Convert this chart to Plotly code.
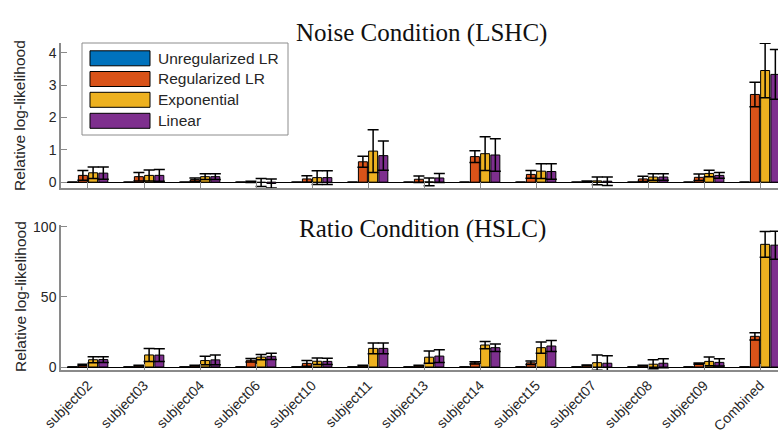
import plotly.graph_objects as go

# ---- data -------------------------------------------------------------
categories = ["subject02", "subject03", "subject04", "subject06", "subject10",
              "subject11", "subject13", "subject14", "subject15", "subject07",
              "subject08", "subject09", "Combined"]

series_names = ["Unregularized LR", "Regularized LR", "Exponential", "Linear"]
series_colors = ["#0072BD", "#D95319", "#EDB120", "#7E2F8E"]

# Noise condition (LSHC): relative log-likelihood and error
noise_unreg = [0] * 13
noise_unreg_err = [0] * 13
noise_reg = [0.21, 0.17, 0.08, 0.01, 0.10, 0.63, 0.09, 0.79, 0.24, 0.02, 0.10, 0.15, 2.71]
noise_reg_err = [0.15, 0.13, 0.05, 0.02, 0.10, 0.17, 0.10, 0.18, 0.12, 0.02, 0.08, 0.10, 0.38]
noise_exp = [0.29, 0.21, 0.17, -0.01, 0.14, 0.96, 0.01, 0.88, 0.34, 0.04, 0.16, 0.27, 3.45]
noise_exp_err = [0.18, 0.17, 0.09, 0.12, 0.21, 0.66, 0.12, 0.52, 0.23, 0.12, 0.10, 0.10, 0.84]
noise_lin = [0.28, 0.21, 0.17, -0.04, 0.14, 0.82, 0.13, 0.84, 0.33, 0.03, 0.16, 0.21, 3.33]
noise_lin_err = [0.19, 0.18, 0.09, 0.14, 0.21, 0.45, 0.14, 0.50, 0.24, 0.13, 0.10, 0.09, 0.77]

# Ratio condition (HSLC)
ratio_unreg = [0] * 13
ratio_unreg_err = [0] * 13
ratio_reg = [1.5, 1.0, 1.0, 4.8, 2.6, 1.0, 1.0, 3.0, 3.0, 1.2, 1.0, 2.4, 21.9]
ratio_reg_err = [0.4, 0.3, 0.3, 1.2, 2.0, 0.3, 0.3, 0.8, 1.3, 0.3, 0.3, 0.5, 2.6]
ratio_exp = [5.2, 8.6, 4.6, 7.1, 4.1, 13.3, 7.0, 15.7, 13.8, 3.1, 2.0, 4.0, 87.6]
ratio_exp_err = [2.1, 4.7, 3.0, 1.9, 2.3, 3.8, 4.4, 2.6, 4.0, 5.5, 3.2, 3.1, 9.2]
ratio_lin = [5.3, 8.5, 5.1, 7.6, 4.0, 13.3, 7.8, 13.8, 15.0, 2.7, 2.7, 3.3, 87.0]
ratio_lin_err = [2.1, 4.5, 3.5, 2.2, 2.2, 3.8, 4.6, 2.7, 4.0, 5.3, 3.2, 2.6, 10.0]

noise_tick_vals = [0, 1, 2, 3, 4]
ratio_tick_vals = [0, 50, 100]

# ---- figure -----------------------------------------------------------
W, H = 778, 436
ML = 61
fig = go.Figure()

panels = [
    ("x", "y", [noise_unreg, noise_reg, noise_exp, noise_lin],
     [noise_unreg_err, noise_reg_err, noise_exp_err, noise_lin_err]),
    ("x2", "y2", [ratio_unreg, ratio_reg, ratio_exp, ratio_lin],
     [ratio_unreg_err, ratio_reg_err, ratio_exp_err, ratio_lin_err]),
]

for xa, ya, vals, errs in panels:
    for name, color, v, e in zip(series_names, series_colors, vals, errs):
        fig.add_trace(go.Bar(
            x=categories, y=v, name=name, xaxis=xa, yaxis=ya,
            marker=dict(color=color, line=dict(color="black", width=1)),
            error_y=dict(type="data", array=e, visible=True,
                         color="black", thickness=1.5, width=5.5),
            showlegend=False,
        ))

axis_gray = "#8a8a8a"
tick_font = dict(family="Liberation Sans, Arial, sans-serif", size=14, color="#262626")

common_x = dict(
    type="category", categoryorder="array", categoryarray=categories,
    range=[-0.482, 12.321], showgrid=False, showline=True, linecolor=axis_gray,
    linewidth=1.5, ticks="inside", ticklen=6, tickcolor=axis_gray, tickwidth=1,
    zeroline=False, fixedrange=True,
)
common_y = dict(
    showgrid=False, showline=True, linecolor=axis_gray, linewidth=1.5,
    ticks="inside", ticklen=6, tickcolor=axis_gray, tickwidth=1,
    zeroline=True, zerolinecolor="black", zerolinewidth=1,
    tickfont=tick_font, automargin=False,
)

fig.update_layout(
    width=W, height=H,
    margin=dict(l=ML, r=0, t=0, b=0),
    paper_bgcolor="white", plot_bgcolor="white",
    barmode="group", bargap=0.27, bargroupgap=0.12,
    xaxis=dict(common_x, domain=[0, 1], anchor="y", showticklabels=False),
    yaxis=dict(common_y, domain=[1 - 188 / H, 1 - 43 / H], anchor="x",
               range=[-0.18, 4.3], tickvals=noise_tick_vals),
    xaxis2=dict(common_x, domain=[0, 1], anchor="y2", showticklabels=True,
                tickangle=-45, tickfont=tick_font),
    yaxis2=dict(common_y, domain=[1 - 370 / H, 1 - 225 / H], anchor="x2",
                range=[-2.14, 101.4], tickvals=ratio_tick_vals),
    showlegend=False,
)


def px_x(px):
    return (px - ML) / (W - ML)


def px_y(py):
    return 1 - py / H


title_font = dict(family="Liberation Serif, Times New Roman, serif", size=25, color="#111111")
label_font = dict(family="Liberation Sans, Arial, sans-serif", size=15.5, color="#262626")

annotations = [
    dict(text="Noise Condition (LSHC)", x=px_x(421), y=px_y(33)),
    dict(text="Ratio Condition (HSLC)", x=px_x(422), y=px_y(229)),
]
annotations = [dict(a, xref="paper", yref="paper", xanchor="center", yanchor="middle",
                    showarrow=False, font=title_font) for a in annotations]

for yc in (116, 297):
    annotations.append(dict(
        text="Relative log-likelihood", x=px_x(20), y=px_y(yc),
        xref="paper", yref="paper", xanchor="center", yanchor="middle",
        showarrow=False, textangle=-90, font=label_font))

# legend box with wide colour patches
shapes = [dict(type="rect", xref="paper", yref="paper",
               x0=px_x(82), x1=px_x(288), y0=px_y(135), y1=px_y(43),
               line=dict(color="#8c8c8c", width=1), fillcolor="white", layer="above")]
row_centers = [58.3, 79.0, 99.8, 120.8]
for name, color, yc in zip(series_names, series_colors, row_centers):
    shapes.append(dict(type="rect", xref="paper", yref="paper",
                       x0=px_x(90), x1=px_x(150), y0=px_y(yc + 7.5), y1=px_y(yc - 7.5),
                       line=dict(color="black", width=1), fillcolor=color, layer="above"))
    annotations.append(dict(text=name, x=px_x(156), y=px_y(yc),
                            xref="paper", yref="paper", xanchor="left", yanchor="middle",
                            showarrow=False, font=label_font))

fig.update_layout(annotations=annotations, shapes=shapes)

fig.write_html("out.html")
